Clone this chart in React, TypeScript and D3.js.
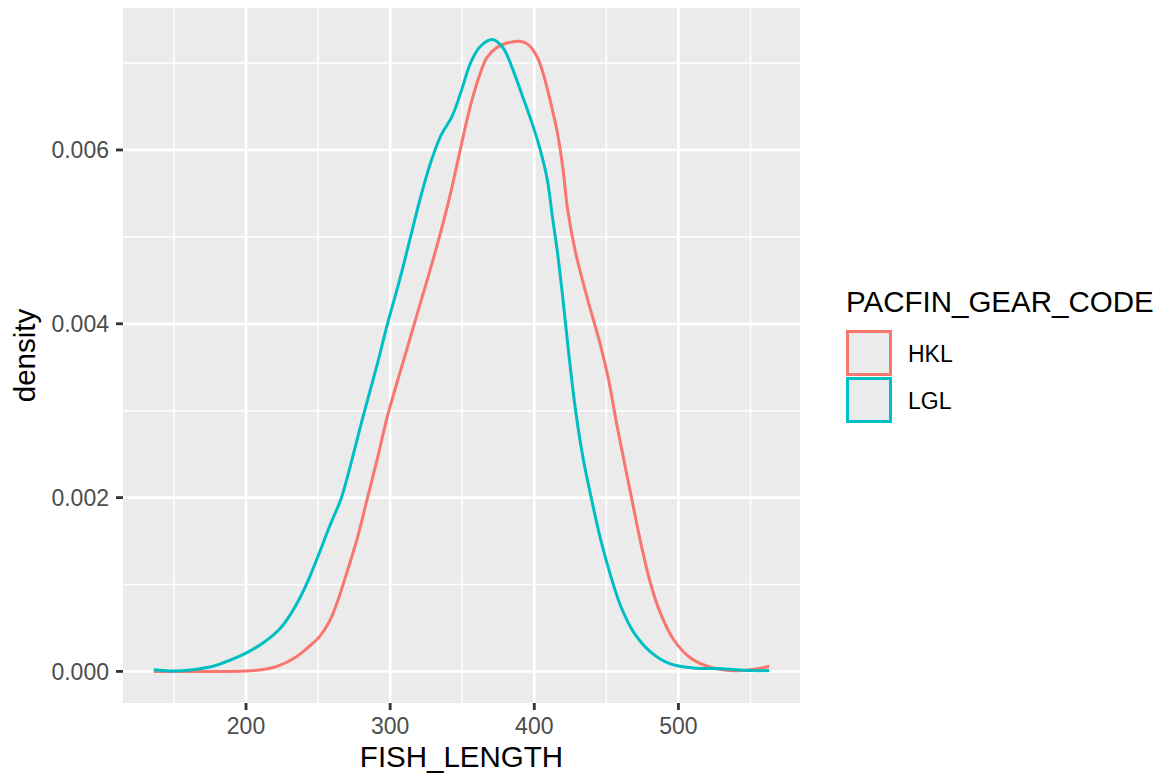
import React from "react";
import * as d3 from "d3";

// Kernel density estimates of fish length by gear code
const hklLength = [136, 160, 200, 215, 222, 235, 244, 251, 258, 264, 270, 277, 284, 291, 298, 307, 312, 321, 330, 340, 347, 353.5, 357.5, 362.5, 367, 374, 381, 390, 396, 402, 406, 411, 416, 420, 423, 428.5, 437, 446, 451.5, 457.5, 464.5, 470, 474, 480.5, 487.5, 496.5, 508, 520, 535, 545, 555, 563];
const hklDensity = [0, 0, 0.000005, 0.00003, 0.00006, 0.00017, 0.00029, 0.0004, 0.00058, 0.00083, 0.00114, 0.00152, 0.00198, 0.00244, 0.00293, 0.00345, 0.00373, 0.00424, 0.00475, 0.00537, 0.00588, 0.00636, 0.00662, 0.00688, 0.00706, 0.00718, 0.00723, 0.00725, 0.00721, 0.00707, 0.00689, 0.00657, 0.0062, 0.00577, 0.00533, 0.00483, 0.00428, 0.00375, 0.00336, 0.00282, 0.00224, 0.00179, 0.00147, 0.00102, 0.00067, 0.00037, 0.00016, 0.00006, 0.00001, 0.00001, 0.00003, 0.00006];

const lglLength = [136, 150, 163, 177, 189, 200, 212, 224, 231, 237.5, 244, 251, 258, 266, 272, 281, 291, 298, 307, 314, 321, 328, 335, 343, 349, 356, 362.5, 371, 378.5, 385, 392, 399, 404, 409, 412.5, 416, 419.5, 423.5, 428.5, 434, 440, 446, 453, 460, 469, 481, 494, 510, 530, 550, 563];
const lglDensity = [0.00002, 0.000005, 0.00002, 0.00006, 0.00013, 0.00021, 0.00033, 0.0005, 0.00066, 0.00085, 0.00108, 0.00137, 0.00167, 0.00199, 0.00234, 0.00292, 0.00353, 0.00399, 0.00453, 0.00499, 0.00545, 0.00585, 0.00616, 0.00639, 0.00666, 0.00701, 0.00719, 0.00727, 0.00717, 0.00693, 0.00661, 0.00628, 0.00601, 0.00566, 0.00524, 0.00483, 0.00434, 0.00372, 0.00302, 0.00244, 0.00196, 0.00152, 0.0011, 0.00075, 0.00045, 0.00022, 0.00009, 0.00004, 0.00003, 0.00001, 0.00001];

const gearCodes = ["HKL", "LGL"];
const gearColors = ["#F8766D", "#00BFC4"];

const xMajor = [200, 300, 400, 500];
const xMinor = [150, 250, 350, 450, 550];
const yMajor = [0, 0.002, 0.004, 0.006];
const yMinor = [0.001, 0.003, 0.005, 0.007];

const FONT = "'Liberation Sans', Arial, Helvetica, sans-serif";

export default function App() {
  const width = 1163;
  const height = 773;
  const panel = { left: 123, right: 800, top: 8, bottom: 703 };

  const series = [
    hklLength.map((x, i) => [x, hklDensity[i]] as [number, number]),
    lglLength.map((x, i) => [x, lglDensity[i]] as [number, number]),
  ];

  const allX = [...hklLength, ...lglLength];
  const xMin = d3.min(allX)!;
  const xMax = d3.max(allX)!;
  const xPad = (xMax - xMin) * 0.05;
  const yMax = d3.max([...hklDensity, ...lglDensity])!;
  const yPad = yMax * 0.05;

  const x = d3.scaleLinear().domain([xMin - xPad, xMax + xPad]).range([panel.left, panel.right]);
  const y = d3.scaleLinear().domain([-yPad, yMax + yPad]).range([panel.bottom, panel.top]);

  const line = d3
    .line<[number, number]>()
    .x((d) => x(d[0]))
    .y((d) => y(d[1]))
    .curve(d3.curveCatmullRom.alpha(0.5));

  const tickFmt = d3.format(".3f");

  return (
    <svg
      width={width}
      height={height}
      style={{ position: "absolute", left: 0, top: 0, background: "#FFFFFF" }}
      fontFamily={FONT}
    >
      <rect x={panel.left} y={panel.top} width={panel.right - panel.left} height={panel.bottom - panel.top} fill="#EBEBEB" />

      {xMinor.map((v) => (
        <line key={"xm" + v} x1={x(v)} x2={x(v)} y1={panel.top} y2={panel.bottom} stroke="#FFFFFF" strokeWidth={1.5} />
      ))}
      {yMinor.map((v) => (
        <line key={"ym" + v} x1={panel.left} x2={panel.right} y1={y(v)} y2={y(v)} stroke="#FFFFFF" strokeWidth={1.5} />
      ))}
      {xMajor.map((v) => (
        <line key={"xM" + v} x1={x(v)} x2={x(v)} y1={panel.top} y2={panel.bottom} stroke="#FFFFFF" strokeWidth={2.8} />
      ))}
      {yMajor.map((v) => (
        <line key={"yM" + v} x1={panel.left} x2={panel.right} y1={y(v)} y2={y(v)} stroke="#FFFFFF" strokeWidth={2.8} />
      ))}

      {series.map((s, i) => (
        <path key={gearCodes[i]} d={line(s) || ""} fill="none" stroke={gearColors[i]} strokeWidth={3} strokeLinejoin="round" />
      ))}

      {/* axes */}
      {xMajor.map((v) => (
        <g key={"xt" + v}>
          <line x1={x(v)} x2={x(v)} y1={panel.bottom} y2={panel.bottom + 7} stroke="#333333" strokeWidth={2.8} />
          <text x={x(v)} y={733.5} textAnchor="middle" fontSize={23} fill="#4D4D4D">
            {v}
          </text>
        </g>
      ))}
      {yMajor.map((v) => (
        <g key={"yt" + v}>
          <line x1={panel.left - 7} x2={panel.left} y1={y(v)} y2={y(v)} stroke="#333333" strokeWidth={2.8} />
          <text x={109} y={y(v) + 8.3} textAnchor="end" fontSize={23} fill="#4D4D4D">
            {tickFmt(v)}
          </text>
        </g>
      ))}

      <text x={(panel.left + panel.right) / 2} y={767} textAnchor="middle" fontSize={29.5} fill="#000000">
        FISH_LENGTH
      </text>
      <text
        transform={`translate(35, ${(panel.top + panel.bottom) / 2}) rotate(-90)`}
        textAnchor="middle"
        fontSize={29.5}
        fill="#000000"
      >
        density
      </text>

      {/* legend */}
      <text x={846} y={312} fontSize={29.5} fill="#000000">
        PACFIN_GEAR_CODE
      </text>
      {gearCodes.map((code, i) => (
        <g key={"lg" + code}>
          <rect x={847.5} y={331.5 + i * 47} width={43} height={43} fill="#EBEBEB" stroke={gearColors[i]} strokeWidth={3} />
          <text x={908} y={362 + i * 47} fontSize={23} fill="#000000">
            {code}
          </text>
        </g>
      ))}
    </svg>
  );
}
